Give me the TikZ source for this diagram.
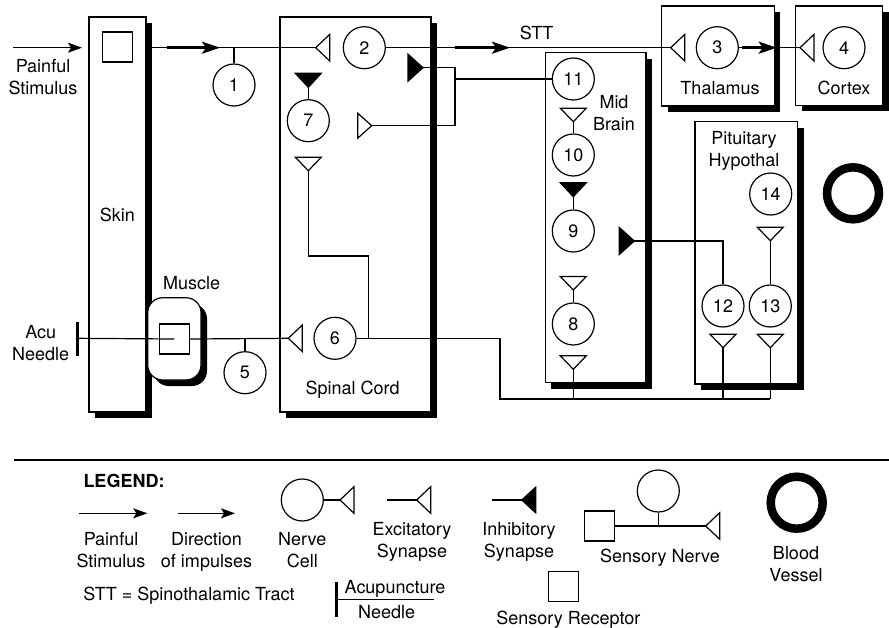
\documentclass[tikz,border=0pt]{standalone}
\usepackage{fontspec}
\setmainfont{TeX Gyre Heros}
\usetikzlibrary{arrows.meta,shadows}
\tikzset{
  exL/.pic={\draw[line width=1.2pt,fill=white] (0,0)--(14,-13.3)--(14,13.3)--cycle;},
  exR/.pic={\draw[line width=1.2pt,fill=white] (0,0)--(-14,-12.5)--(-14,12.5)--cycle;},
  exD/.pic={\draw[line width=1.2pt,fill=white] (0,0)--(-13,-13.5)--(13,-13.5)--cycle;},
  inD/.pic={\draw[line width=1.2pt,fill=black] (0,0)--(-13,-14)--(13,-14)--cycle;},
  inR/.pic={\draw[line width=1.2pt,fill=black] (0,0)--(-15,-13.5)--(-15,13.5)--cycle;},
  inL/.pic={\draw[line width=1.2pt,fill=black] (0,0)--(14,-12.8)--(14,12.8)--cycle;}
}
\begin{document}
\begin{tikzpicture}[x=1pt,y=-1pt,
  every node/.style={font=\fontsize{18}{22}\selectfont},
  wire/.style={line width=1.2pt},
  box/.style={draw,line width=1.2pt,fill=white,inner sep=0pt,outer sep=0pt,
    drop shadow={shadow xshift=6pt,shadow yshift=-6pt,fill=black,opacity=1}},
  neuron/.style={circle,draw,line width=1.2pt,fill=white,minimum size=42pt,inner sep=0pt},
  rsq/.style={draw,line width=1.2pt,minimum size=30pt,inner sep=0pt},
  vessel/.style={circle,draw,line width=8.5pt,minimum size=52pt,inner sep=0pt},
  lbl/.style={align=center,inner sep=0pt},
  bigarrow/.style={line width=2.8pt,-{Stealth[length=18pt,width=12pt,inset=4pt]}},
  smallarrow/.style={line width=1.2pt,-{Stealth[length=14pt,width=10pt,inset=3pt]}},
  needlebar/.style={line width=3pt}
]
\useasboundingbox (0,0) rectangle (889,627);
\fill[white] (0,0) rectangle (889,627);

% ---------- boxes ----------
\node[box,minimum width=57pt,minimum height=395pt] (skin) at (117.5,214.5) {};
\node[box,minimum width=151pt,minimum height=395pt] (spinal) at (355.5,214.5) {};
\node[box,minimum width=100.7pt,minimum height=330pt] (mid) at (595.65,217.7) {};
\node[box,minimum width=102.7pt,minimum height=262.3pt] (pit) at (746.35,252.85) {};
\node[box,minimum width=112.6pt,minimum height=100pt] (thal) at (718,56) {};
\node[box,minimum width=87pt,minimum height=99.3pt] (cortex) at (839.2,55.65) {};
\node[box,rounded corners=15pt,minimum width=53.3pt,minimum height=82.3pt] (muscle) at (174.35,338.85) {};

% ---------- labels ----------
\node[lbl] (skinlbl) at (117.3,215) {Skin};
\node[lbl] (spinallbl) at (352.7,389.5) {Spinal Cord};
\node[lbl] (midlbl) at (614,113) {Mid\\Brain};
\node[lbl] (thallbl) at (720,88.3) {Thalamus};
\node[lbl] (cortexlbl) at (844,88.3) {Cortex};
\node[lbl] (pitlbl) at (744,150.5) {Pituitary\\Hypothal};
\node[lbl] (musclelbl) at (191.7,283.3) {Muscle};
\node[lbl] (stimlbl) at (43,77) {Painful\\Stimulus};
\node[lbl] (needlelbl) at (40.7,343.3) {Acu\\Needle};
\node[lbl] (sttlbl) at (536.7,33) {STT};

% ---------- receptors ----------
\node[rsq] (skinrec) at (117.5,47) {};
\node[rsq] (musclerec) at (174.3,339) {};

% ---------- neurons ----------
\node[neuron] (n1) at (234,85) {1};
\node[neuron] (n2) at (364.3,47.7) {2};
\node[neuron] (n3) at (717.3,47.7) {3};
\node[neuron] (n4) at (844,47.7) {4};
\node[neuron] (n5) at (245,372.7) {5};
\node[neuron] (n6) at (335,338.3) {6};
\node[neuron] (n7) at (308.3,120.7) {7};
\node[neuron] (n8) at (573.3,324) {8};
\node[neuron] (n9) at (573.3,231) {9};
\node[neuron] (n10) at (573.3,155) {10};
\node[neuron] (n11) at (573.3,79) {11};
\node[neuron] (n12) at (723,306) {12};
\node[neuron] (n13) at (770.3,306) {13};
\node[neuron] (n14) at (770.7,194) {14};

\node[vessel] (bv) at (853,193.3) {};

% ---------- coordinates ----------
\coordinate (ps1) at (13,47.7);
\coordinate (ps2) at (82,47.7);
\coordinate (skinout) at (151,47.7);
\coordinate (t1) at (234,47.7);
\coordinate (a1s) at (167,47.7);
\coordinate (a1e) at (220,47.7);
\coordinate (s2) at (315.7,47.7);
\coordinate (a2s) at (455,47.7);
\coordinate (a2e) at (510,47.7);
\coordinate (s3) at (670.7,47.7);
\coordinate (a3s) at (742.3,47.7);
\coordinate (a3e) at (776.7,47.7);
\coordinate (s4) at (800,47.7);
\coordinate (inh2) at (423,67.7);
\coordinate (br1) at (455,67.7);
\coordinate (br2) at (455,125.7);
\coordinate (br3) at (455,79);
\coordinate (ex7r) at (371.7,125.7);
\coordinate (d7a) at (308.3,87.3);
\coordinate (d7b) at (308.3,170.7);
\coordinate (j1) at (308.3,256);
\coordinate (j2) at (368.3,256);
\coordinate (j3) at (368.3,338.3);
\coordinate (s6) at (288.3,338.3);
\coordinate (t5) at (245,338.3);
\coordinate (needle) at (77.3,338.3);
\coordinate (nb1) at (77.3,322.3);
\coordinate (nb2) at (77.3,355.7);
\coordinate (k1) at (500,338.3);
\coordinate (k2) at (500,399);
\coordinate (d10) at (573.3,121.7);
\coordinate (d9) at (573.3,196.7);
\coordinate (d8a) at (573.3,290);
\coordinate (d8b) at (573.3,369.3);
\coordinate (b8) at (573.3,399);
\coordinate (inh12) at (634.3,241);
\coordinate (c12) at (723,241);
\coordinate (d13a) at (770.3,240.7);
\coordinate (d12b) at (723,347.7);
\coordinate (d13b) at (770.3,347.7);
\coordinate (b12) at (723,399);
\coordinate (b13) at (770.3,399);

% ---------- connectors ----------
\draw[smallarrow] (ps1) -- (ps2);
\draw[wire] (skinout) -- (s2);
\draw[bigarrow] (a1s) -- (a1e);
\draw[wire] (t1) -- (n1);
\draw[wire] (n2) -- (s3);
\draw[bigarrow] (a2s) -- (a2e);
\draw[wire] (n3) -- (s4);
\draw[bigarrow] (a3s) -- (a3e);
\draw[wire] (inh2) -- (br1) -- (br2) -- (ex7r);
\draw[wire] (br3) -- (n11);
\draw[wire] (d7a) -- (n7);
\draw[wire] (d7b) -- (j1) -- (j2) -- (j3);
\draw[needlebar] (nb1) -- (nb2);
\draw[wire] (needle) -- (musclerec.center);
\draw[wire] (musclerec.east) -- (s6);
\draw[wire] (t5) -- (n5);
\draw[wire] (n6) -- (k1) -- (k2) -- (b13);
\draw[wire] (d10) -- (n10);
\draw[wire] (d9) -- (n9);
\draw[wire] (d8a) -- (n8);
\draw[wire] (d8b) -- (b8);
\draw[wire] (inh12) -- (c12) -- (n12);
\draw[wire] (d13a) -- (n13);
\draw[wire] (d12b) -- (b12);
\draw[wire] (d13b) -- (b13);

% ---------- synapses ----------
\pic at (s2) {exL};
\pic at (s3) {exL};
\pic at (s4) {exL};
\pic at (s6) {exL};
\pic at (inh2) {inR};
\pic at (ex7r) {exR};
\pic at (d7a) {inD};
\pic at (d7b) {exD};
\pic at (d10) {exD};
\pic at (d9) {inD};
\pic at (d8a) {exD};
\pic at (d8b) {exD};
\pic at (inh12) {inR};
\pic at (d13a) {exD};
\pic at (d12b) {exD};
\pic at (d13b) {exD};

% ---------- legend ----------
\coordinate (r1) at (14,460);
\coordinate (r2) at (889,460);
\draw[line width=2.5pt] (r1) -- (r2);
\node[anchor=west,inner sep=0pt] (legend) at (83.3,481) {\bfseries LEGEND:};

\coordinate (lga1) at (79,513.3);
\coordinate (lga2) at (147.3,513.3);
\draw[smallarrow] (lga1) -- (lga2);
\coordinate (lgb1) at (178.3,513.3);
\coordinate (lgb2) at (235,513.3);
\draw[smallarrow] (lgb1) -- (lgb2);
\node[lbl] (lgpain) at (111,550.3) {Painful\\Stimulus};
\node[lbl] (lgdir) at (206.5,552.3) {Direction\\of impulses};

\node[neuron] (lgcell) at (302.3,500) {};
\coordinate (lgcs) at (340,500);
\draw[wire] (lgcell) -- (lgcs);
\pic at (lgcs) {exL};
\node[lbl] (lgcelllbl) at (302.3,550.5) {Nerve\\Cell};

\coordinate (lgex1) at (386.7,500);
\coordinate (lgex2) at (416.7,500);
\draw[wire] (lgex1) -- (lgex2);
\pic at (lgex2) {exL};
\node[lbl] (lgexlbl) at (412,542.3) {Excitatory\\Synapse};

\coordinate (lgin1) at (492.3,500);
\coordinate (lgin2) at (521.7,500);
\draw[wire] (lgin1) -- (lgin2);
\pic at (lgin2) {inL};
\node[lbl] (lginlbl) at (519,542.3) {Inhibitory\\Synapse};

\node[rsq] (lgsq) at (599.2,526) {};
\node[neuron] (lgsn) at (658.3,491) {};
\coordinate (lgsnj) at (658.3,526);
\coordinate (lgsnt) at (705.7,526);
\draw[wire] (lgsq.east) -- (lgsnt);
\draw[wire] (lgsnj) -- (lgsn);
\pic at (lgsnt) {exL};
\node[lbl] (lgsnlbl) at (660,558) {Sensory Nerve};

\node[rsq] (lgrec) at (563.7,586.3) {};
\node[lbl] (lgreclbl) at (568.3,619.3) {Sensory Receptor};

\node[vessel] (lgbv) at (796.7,502.7) {};
\node[lbl] (lgbvlbl) at (796,563.8) {Blood\\Vessel};

\node[lbl] (lgstt) at (189,595.3) {STT = Spinothalamic Tract};

\coordinate (lgn1) at (336.7,582.3);
\coordinate (lgn2) at (336.7,616.7);
\coordinate (lgn3) at (336.7,599.3);
\coordinate (lgn4) at (434.3,599.3);
\draw[needlebar] (lgn1) -- (lgn2);
\draw[wire] (lgn3) -- (lgn4);
\node[lbl] (lgacu) at (395,588.7) {Acupuncture};
\node[lbl] (lgneedle) at (386.7,612.3) {Needle};
\end{tikzpicture}
\end{document}
